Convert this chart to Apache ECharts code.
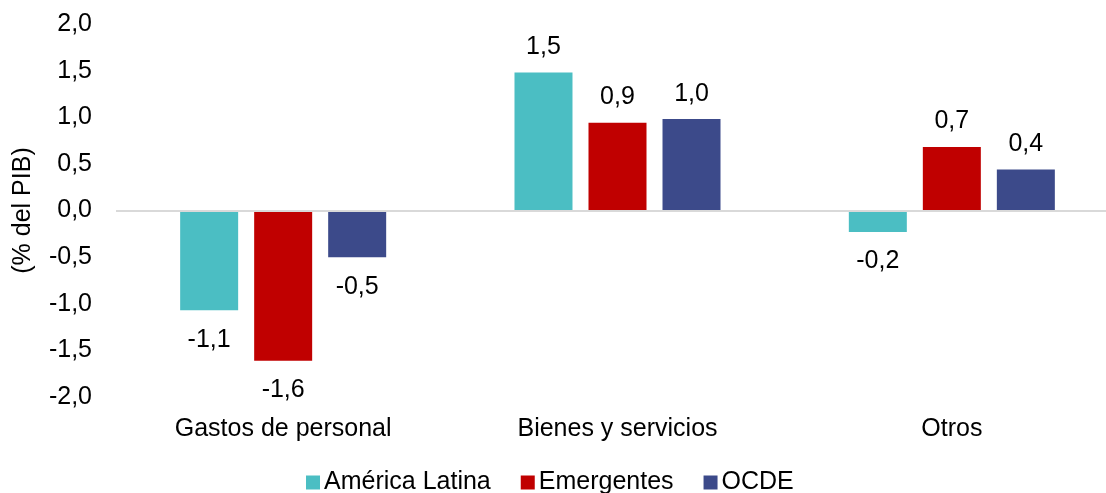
<!DOCTYPE html>
<html>
<head>
<meta charset="utf-8">
<script src="https://cdn.jsdelivr.net/npm/echarts@6/dist/echarts.min.js"></script>
<style>html,body{margin:0;padding:0;background:#fff}#c{width:1106px;height:493px}</style>
</head>
<body>
<div id="c"></div>
<script>
const categories = ['Gastos de personal', 'Bienes y servicios', 'Otros'];
const seriesNames = ['América Latina', 'Emergentes', 'OCDE'];
const americaLatina = [-1.07, 1.48, -0.23];
const emergentes = [-1.61, 0.94, 0.68];
const ocde = [-0.50, 0.98, 0.44];
const yTicks = { min: -2, max: 2, interval: 0.5 };
const colors = ['#4BBEC3', '#C00000', '#3C4A8A'];

const font = 'Liberation Sans, Arial, sans-serif';
const fs = 25;
const fmt = v => v.toFixed(1).replace('.', ',');

function mkData(vals) {
  return vals.map(v => ({
    value: v,
    label: { position: v >= 0 ? 'top' : 'bottom', distance: v >= 0 ? 13 : 17 }
  }));
}

const allVals = [americaLatina, emergentes, ocde];
const series = allVals.map((vals, i) => ({
  name: seriesNames[i],
  type: 'bar',
  data: mkData(vals),
  barWidth: 58,
  barGap: '27.6%',
  itemStyle: { color: colors[i] },
  label: {
    show: true,
    fontFamily: font,
    fontSize: fs,
    color: '#000',
    formatter: p => fmt(p.value)
  },
  markLine: i === 0 ? {
    silent: true,
    symbol: 'none',
    label: { show: false },
    lineStyle: { color: '#D9D9D9', width: 2, type: 'solid' },
    data: [{ yAxis: 0 }]
  } : undefined,
  z: 3
}));

const chart = echarts.init(document.getElementById('c'), null, { renderer: 'canvas' });
chart.setOption({
  animation: false,
  backgroundColor: '#fff',
  textStyle: { fontFamily: font },
  grid: { left: 116, width: 1003, top: 24, bottom: 96, containLabel: false, outerBoundsMode: 'none' },
  legend: {
    data: seriesNames,
    left: 306,
    top: 470,
    padding: 0,
    itemWidth: 14,
    itemHeight: 14,
    itemGap: 30,
    icon: 'rect',
    textStyle: { fontFamily: font, fontSize: fs, color: '#000', padding: [0, 0, 0, -1] }
  },
  xAxis: {
    type: 'category',
    data: categories,
    axisLine: { show: false, onZero: false },
    axisTick: { show: false },
    axisLabel: { fontFamily: font, fontSize: fs, color: '#000', margin: 20 },
    splitLine: { show: false }
  },
  yAxis: {
    type: 'value',
    min: yTicks.min,
    max: yTicks.max,
    interval: yTicks.interval,
    name: '(% del PIB)',
    nameLocation: 'middle',
    nameGap: 80,
    nameRotate: 90,
    nameTextStyle: { fontFamily: font, fontSize: fs, color: '#000' },
    axisLine: { show: false },
    axisTick: { show: false },
    splitLine: { show: false },
    axisLabel: { fontFamily: font, fontSize: fs, color: '#000', margin: 24, formatter: v => fmt(v) }
  },
  series: series
});
</script>
</body>
</html>
